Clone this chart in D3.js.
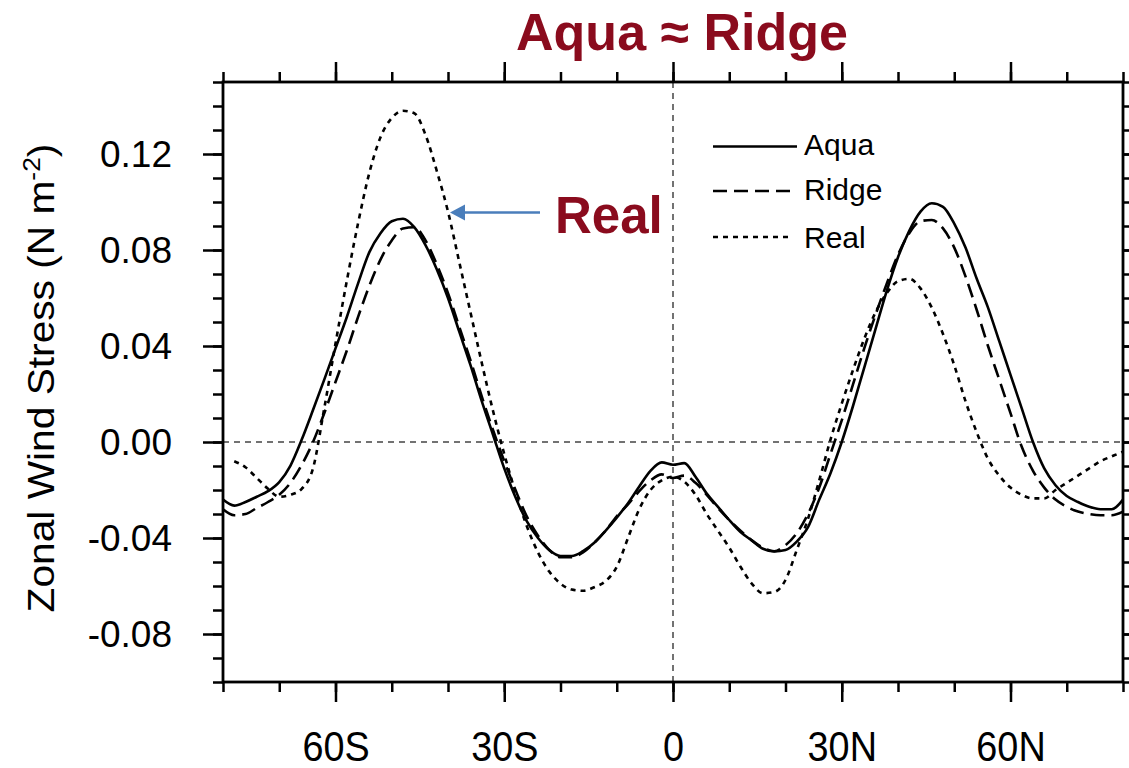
<!DOCTYPE html>
<html>
<head>
<meta charset="utf-8">
<script src="https://cdn.jsdelivr.net/npm/d3@7"></script>
<style>
  html, body { margin: 0; padding: 0; background: #fff; }
  svg { display: block; }
  text { font-family: "Liberation Sans", Arial, Helvetica, sans-serif; }
</style>
</head>
<body>
<svg id="chart" width="1129" height="768"></svg>
<script>
// ---------------- DATA ----------------
const latitudes = d3.range(-80, 81, 2);

const aqua = [
  -0.024, -0.0265, -0.025, -0.0228, -0.0205, -0.0167, -0.0098, 0.001, 0.0133, 0.026,
  0.039, 0.052, 0.066, 0.079, 0.087, 0.092, 0.093, 0.0895, 0.082, 0.072,
  0.060, 0.046, 0.032, 0.017, 0.003, -0.011, -0.023, -0.033, -0.040, -0.045,
  -0.0475, -0.0475, -0.0455, -0.042, -0.037, -0.0315, -0.0255, -0.0185, -0.012, -0.0085,
  -0.0095,
  -0.0088, -0.0145, -0.0215, -0.027, -0.0325, -0.0375, -0.041, -0.0445, -0.0456, -0.045,
  -0.0415, -0.0355, -0.024, -0.013, 0.000, 0.015, 0.031, 0.047, 0.063, 0.077,
  0.088, 0.096, 0.0995, 0.098, 0.091, 0.081, 0.068, 0.056, 0.042, 0.028,
  0.014, 0.000, -0.011, -0.018, -0.0225, -0.025, -0.027, -0.028, -0.028, -0.024
];

const ridge = [
  -0.028, -0.0305, -0.030, -0.0275, -0.025, -0.022, -0.017, -0.0095, 0.000, 0.012,
  0.025, 0.038, 0.052, 0.065, 0.076, 0.084, 0.089, 0.0895, 0.084, 0.074,
  0.062, 0.048, 0.034, 0.019, 0.005, -0.008, -0.020, -0.031, -0.039, -0.045,
  -0.048, -0.048, -0.046, -0.042, -0.037, -0.031, -0.026, -0.0205, -0.016, -0.0135,
  -0.015,
  -0.014, -0.017, -0.022, -0.0275, -0.0325, -0.037, -0.041, -0.044, -0.0455, -0.043,
  -0.038, -0.030, -0.019, -0.005, 0.009, 0.024, 0.039, 0.053, 0.066, 0.078,
  0.087, 0.092, 0.0925, 0.089, 0.081, 0.069, 0.055, 0.040, 0.026, 0.012,
  -0.002, -0.012, -0.019, -0.024, -0.027, -0.029, -0.030, -0.0305, -0.0305, -0.029
];

// Real starts at 78S (no value at 80S)
const real = [
  null, -0.008, -0.0105, -0.015, -0.0195, -0.0228, -0.022, -0.0195, -0.011, 0.014,
  0.041, 0.067, 0.091, 0.112, 0.127, 0.135, 0.138, 0.137, 0.128, 0.113,
  0.096, 0.075, 0.054, 0.033, 0.013, -0.005, -0.021, -0.035, -0.046, -0.054,
  -0.059, -0.0615, -0.062, -0.0605, -0.058, -0.052, -0.040, -0.028, -0.020, -0.016,
  -0.0145,
  -0.0165, -0.022, -0.030, -0.037, -0.044, -0.052, -0.059, -0.063, -0.0625, -0.0575,
  -0.045, -0.032, -0.016, 0.001, 0.016, 0.030, 0.043, 0.054, 0.062, 0.067,
  0.068, 0.064, 0.056, 0.045, 0.032, 0.017, 0.004, -0.007, -0.014, -0.019,
  -0.022, -0.0235, -0.0235, -0.020, -0.017, -0.014, -0.011, -0.008, -0.006, -0.004
];

const seriesNames = ["Aqua", "Ridge", "Real"];
const xMajorTicks = [-60, -30, 0, 30, 60];
const xMinorTicks = d3.range(-80, 81, 10);
const yMajorTicks = [-0.08, -0.04, 0.00, 0.04, 0.08, 0.12];
const yMinorTicks = d3.range(-10, 16, 1).map(d => d / 100);
const titleText = "Aqua \u2248 Ridge";
const yLabelText = "Zonal Wind Stress (N m";
const annotationText = "Real";

// ---------------- LAYOUT ----------------
const svg = d3.select("#chart");
const L = 223, R = 1123, T = 82, B = 682;
const x = d3.scaleLinear().domain([-80, 80]).range([L, R]);
const y = d3.scaleLinear().domain([-0.10, 0.15]).range([B, T]);

const titleColor = "#8a0b1d";
const arrowColor = "#4a7ebb";

// zero reference lines
svg.append("line")
  .attr("x1", L).attr("x2", R).attr("y1", y(0)).attr("y2", y(0))
  .attr("stroke", "#444").attr("stroke-width", 1.5).attr("stroke-dasharray", "6,5");
svg.append("line")
  .attr("x1", x(0)).attr("x2", x(0)).attr("y1", T).attr("y2", B)
  .attr("stroke", "#444").attr("stroke-width", 1.5).attr("stroke-dasharray", "6,5");

// series
const styles = [
  { data: aqua, dash: null },
  { data: ridge, dash: "14,7" },
  { data: real, dash: "5,5" }
];
const line = d3.line()
  .defined(d => d[1] !== null)
  .x(d => x(d[0]))
  .y(d => y(d[1]))
  .curve(d3.curveMonotoneX);

styles.forEach(s => {
  const pts = latitudes.map((lat, i) => [lat, s.data[i]]);
  svg.append("path")
    .datum(pts)
    .attr("d", line)
    .attr("fill", "none")
    .attr("stroke", "#000")
    .attr("stroke-width", 2.6)
    .attr("stroke-linejoin", "round")
    .attr("stroke-dasharray", s.dash);
});

// axes
const latFmt = d => d === 0 ? "0" : (d < 0 ? (-d) + "S" : d + "N");
const valFmt = d => (d < 0 ? "-" : "") + Math.abs(d).toFixed(2);

function styleAxis(g) {
  g.select(".domain").remove();
  g.selectAll(".tick line").attr("stroke", "#000").attr("stroke-width", 2.5);
}

// bottom
svg.append("g").attr("transform", `translate(0,${B})`)
  .call(d3.axisBottom(x).tickValues(xMinorTicks).tickSize(10).tickFormat(""))
  .call(styleAxis);
const bottomMajor = svg.append("g").attr("transform", `translate(0,${B})`)
  .call(d3.axisBottom(x).tickValues(xMajorTicks).tickSize(20).tickFormat(latFmt))
  .call(styleAxis);
bottomMajor.selectAll(".tick text")
  .attr("y", 79).attr("dy", 0)
  .attr("font-size", 42)
  .attr("fill", "#000")
  .attr("transform", "scale(0.9,1)")
  .style("font-family", "'Liberation Sans', Arial, Helvetica, sans-serif");

// top
svg.append("g").attr("transform", `translate(0,${T})`)
  .call(d3.axisTop(x).tickValues(xMinorTicks).tickSize(10).tickFormat(""))
  .call(styleAxis);
svg.append("g").attr("transform", `translate(0,${T})`)
  .call(d3.axisTop(x).tickValues(xMajorTicks).tickSize(20).tickFormat(""))
  .call(styleAxis);

// left
svg.append("g").attr("transform", `translate(${L},0)`)
  .call(d3.axisLeft(y).tickValues(yMinorTicks).tickSize(10).tickFormat(""))
  .call(styleAxis);
const leftMajor = svg.append("g").attr("transform", `translate(${L},0)`)
  .call(d3.axisLeft(y).tickValues(yMajorTicks).tickSize(20).tickFormat(valFmt))
  .call(styleAxis);
leftMajor.selectAll(".tick text")
  .attr("x", -51).attr("dy", "0.35em")
  .attr("font-size", 37)
  .attr("fill", "#000")
  .style("font-family", "'Liberation Sans', Arial, Helvetica, sans-serif");

// right
svg.append("g").attr("transform", `translate(${R},0)`)
  .call(d3.axisRight(y).tickValues(yMinorTicks).tickSize(10).tickFormat(""))
  .call(styleAxis);
svg.append("g").attr("transform", `translate(${R},0)`)
  .call(d3.axisRight(y).tickValues(yMajorTicks).tickSize(20).tickFormat(""))
  .call(styleAxis);

// frame
svg.append("rect")
  .attr("x", L).attr("y", T).attr("width", R - L).attr("height", B - T)
  .attr("fill", "none").attr("stroke", "#000").attr("stroke-width", 2.8);

// y-axis label
const yl = svg.append("text")
  .attr("transform", "translate(54,378) rotate(-90) scale(1.1,1)")
  .attr("text-anchor", "middle")
  .attr("font-size", 37)
  .attr("fill", "#000");
yl.append("tspan").text(yLabelText);
yl.append("tspan").attr("font-size", 24).attr("dy", -14).text("-2");
yl.append("tspan").attr("dy", 14).text(")");

// title
svg.append("text")
  .attr("x", 682).attr("y", 50)
  .attr("text-anchor", "middle")
  .attr("font-size", 52)
  .attr("font-weight", "bold")
  .attr("fill", titleColor)
  .text(titleText);

// legend
const legendY = [146.5, 191, 237];
const legendEnd = [797, 797, 790];
const legendBase = [155, 200, 248];
seriesNames.forEach((name, i) => {
  svg.append("line")
    .attr("x1", 713).attr("x2", legendEnd[i])
    .attr("y1", legendY[i]).attr("y2", legendY[i])
    .attr("stroke", "#000").attr("stroke-width", 2.6)
    .attr("stroke-dasharray", styles[i].dash);
  svg.append("text")
    .attr("x", 804).attr("y", legendBase[i])
    .attr("font-size", 30)
    .attr("fill", "#000")
    .text(name);
});

// annotation: Real + arrow
svg.append("text")
  .attr("x", 555).attr("y", 233)
  .attr("font-size", 51)
  .attr("font-weight", "bold")
  .attr("fill", titleColor)
  .text(annotationText);
svg.append("line")
  .attr("x1", 540).attr("x2", 462).attr("y1", 212.5).attr("y2", 212.5)
  .attr("stroke", arrowColor).attr("stroke-width", 2.5);
svg.append("path")
  .attr("d", "M450,212.5 L465,204.5 L465,220.5 Z")
  .attr("fill", arrowColor);
</script>
</body>
</html>
